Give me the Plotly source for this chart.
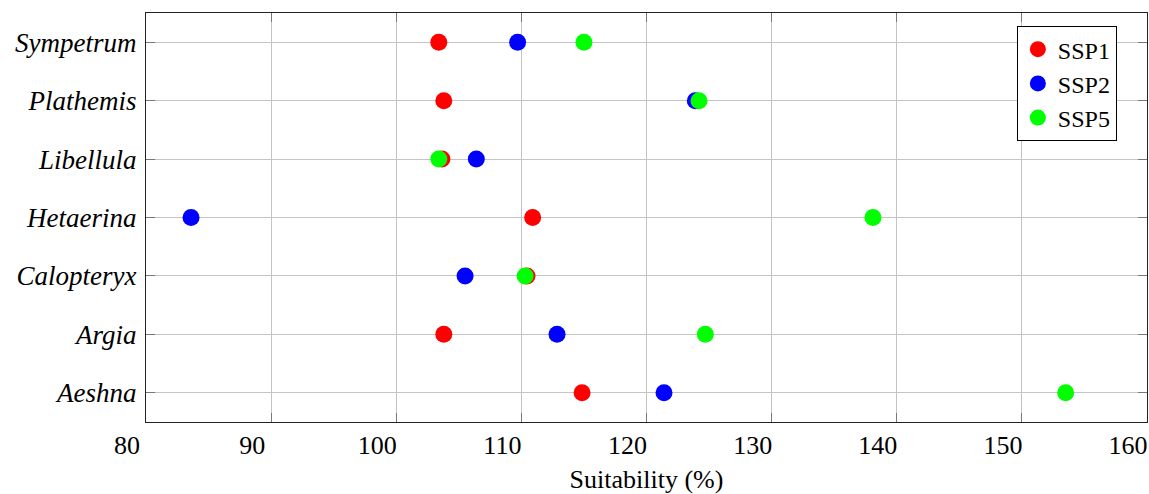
import plotly.graph_objects as go

genera = ["Aeshna", "Argia", "Calopteryx", "Hetaerina", "Libellula", "Plathemis", "Sympetrum"]
ssp1 = [114.85, 103.8, 110.45, 110.9, 103.65, 103.8, 103.4]
ssp2 = [121.4, 112.85, 105.5, 83.6, 106.4, 123.9, 109.7]
ssp5 = [153.5, 124.7, 110.3, 138.1, 103.4, 124.2, 115.0]
x_ticks = [80, 90, 100, 110, 120, 130, 140, 150, 160]

series = [("SSP1", ssp1, "#ff0000"), ("SSP2", ssp2, "#0000ff"), ("SSP5", ssp5, "#00ff00")]

FONT = "Liberation Serif, Times New Roman, serif"

fig = go.Figure()
for name, vals, col in series:
    fig.add_trace(go.Scatter(
        x=vals, y=genera, mode="markers", name=name,
        marker=dict(color=col, size=17, line=dict(width=0)),
    ))

fig.update_layout(
    width=1149, height=494,
    margin=dict(l=146, r=2, t=13, b=72),
    paper_bgcolor="white", plot_bgcolor="white",
    font=dict(family=FONT, size=26, color="black"),
    showlegend=True,
    legend=dict(
        x=0.870, y=0.968, xanchor="left", yanchor="top",
        bordercolor="black", borderwidth=1, bgcolor="white",
        font=dict(family=FONT, size=24, color="black"),
        itemwidth=30, tracegroupgap=0,
    ),
)

fig.update_xaxes(
    range=[80, 160], tickvals=x_ticks, ticktext=[str(v) for v in x_ticks],
    showgrid=True, gridcolor="#c4c4c4", gridwidth=1,
    showline=True, linecolor="#222", linewidth=1, mirror="ticks",
    ticks="inside", ticklen=9, tickcolor="#777", tickwidth=1,
    ticklabelshift=-19,
    tickfont=dict(family=FONT, size=26),
    title=dict(text="Suitability (%)", font=dict(family=FONT, size=26), standoff=12),
    zeroline=False,
)
fig.update_yaxes(
    type="category", categoryorder="array", categoryarray=genera,
    range=[-0.5, 6.5],
    showgrid=True, gridcolor="#c4c4c4", gridwidth=1,
    showline=True, linecolor="#222", linewidth=1, mirror="ticks",
    ticks="inside", ticklen=9, tickcolor="#777", tickwidth=1,
    ticklabelstandoff=3,
    tickfont=dict(family=FONT, size=27, style="italic"),
    zeroline=False,
)

fig.write_html("out.html")
